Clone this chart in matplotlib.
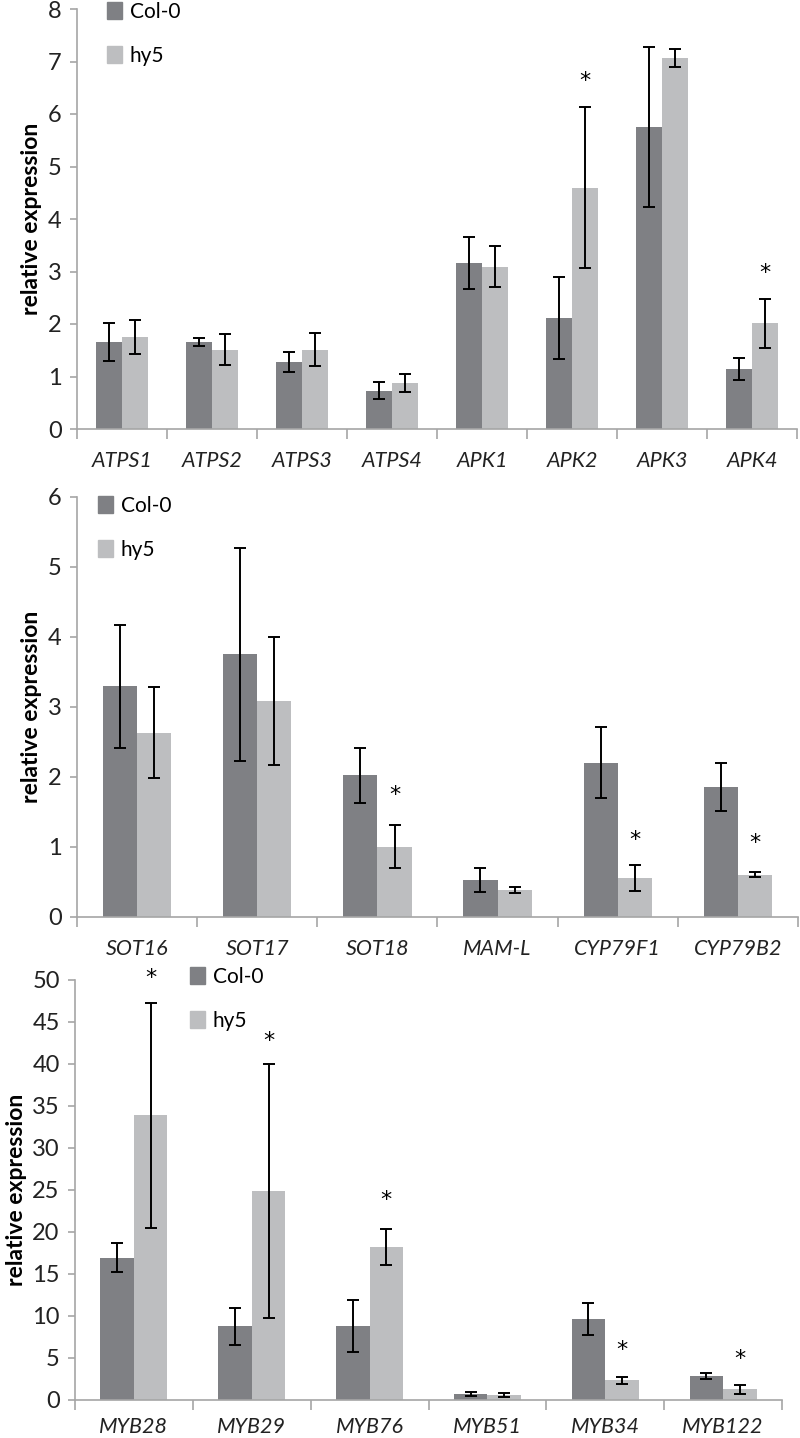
import matplotlib
matplotlib.use("Agg")
import matplotlib.pyplot as plt
import numpy as np
from matplotlib.patches import Patch

plt.rcParams['font.family'] = ['Lato', 'DejaVu Sans']

# ---------------- data ----------------
genes1 = ["ATPS1", "ATPS2", "ATPS3", "ATPS4", "APK1", "APK2", "APK3", "APK4"]
col1 = [1.65, 1.66, 1.27, 0.73, 3.16, 2.11, 5.75, 1.14]
col1_err = [0.36, 0.08, 0.19, 0.16, 0.50, 0.78, 1.53, 0.21]
hy1 = [1.75, 1.51, 1.51, 0.87, 3.09, 4.60, 7.06, 2.01]
hy1_err = [0.33, 0.30, 0.31, 0.17, 0.39, 1.54, 0.17, 0.46]
star1 = [None, None, None, None, None, 6.63, None, 2.97]

genes2 = ["SOT16", "SOT17", "SOT18", "MAM-L", "CYP79F1", "CYP79B2"]
col2 = [3.29, 3.75, 2.02, 0.52, 2.20, 1.85]
col2_err = [0.875, 1.52, 0.39, 0.17, 0.51, 0.34]
hy2 = [2.63, 3.08, 1.00, 0.38, 0.55, 0.60]
hy2_err = [0.65, 0.91, 0.31, 0.04, 0.19, 0.04]
star2 = [None, None, 1.74, None, 1.10, 1.05]

genes3 = ["MYB28", "MYB29", "MYB76", "MYB51", "MYB34", "MYB122"]
col3 = [16.94, 8.77, 8.77, 0.71, 9.64, 2.86]
col3_err = [1.75, 2.2, 3.1, 0.25, 1.9, 0.36]
hy3 = [33.9, 24.9, 18.2, 0.55, 2.34, 1.27]
hy3_err = [13.4, 15.1, 2.1, 0.25, 0.38, 0.54]
star3 = [50.2, 42.7, 23.8, None, 5.95, 4.84]

series_names = ["Col-0", "hy5"]
DARK = "#7f8084"
LIGHT = "#bdbec0"
AXC = "#a6a6a6"

W, H = 800, 1438
fig = plt.figure(figsize=(W / 100, H / 100), dpi=100)


def panel(rect_px, genes, col, col_err, hy, hy_err, stars, ymax, ystep, legpos, xpad):
    l, r, b, t = rect_px
    ax = fig.add_axes([l / W, 1 - b / H, (r - l) / W, (b - t) / H])
    n = len(genes)
    x = np.arange(n)
    w = 0.285
    ek = dict(ecolor="black", elinewidth=1.4, capsize=4.5, capthick=1.4)
    ax.bar(x - w / 2, col, w, color=DARK, yerr=col_err, error_kw=ek, label=series_names[0])
    ax.bar(x + w / 2, hy, w, color=LIGHT, yerr=hy_err, error_kw=ek, label=series_names[1])
    for i, s in enumerate(stars):
        if s is not None:
            ax.text(x[i] + w / 2, s, "*", ha="center", va="center", fontsize=16,
                    family="DejaVu Sans", clip_on=False)
    ax.set_xlim(-0.5, n - 0.5)
    ax.set_ylim(0, ymax)
    ax.set_yticks(np.arange(0, ymax + ystep / 2, ystep))
    ax.set_xticks(x)
    ax.set_xticklabels(genes, fontstyle="italic", fontsize=15.5)
    ax.set_xticks(np.arange(-0.5, n, 1.0), minor=True)
    ax.tick_params(axis="x", which="major", length=0, pad=xpad, colors="#222222")
    ax.tick_params(axis="x", which="minor", length=7, width=1.2, color=AXC, direction="out")
    ax.tick_params(axis="y", length=5, width=1.2, color=AXC, labelsize=17, pad=6,
                   labelcolor="#222222")
    for sp in ["top", "right"]:
        ax.spines[sp].set_visible(False)
    for sp in ["left", "bottom"]:
        ax.spines[sp].set_color(AXC)
        ax.spines[sp].set_linewidth(1.2)
    ax.set_ylabel("relative expression", fontweight="bold", fontsize=16.5, labelpad=4)
    handles = [Patch(color=DARK), Patch(color=LIGHT)]
    ax.legend(handles, series_names, loc="upper left", bbox_to_anchor=legpos,
              bbox_transform=fig.transFigure, frameon=False, fontsize=15,
              handlelength=0.7, handleheight=0.85, handletextpad=0.4,
              labelspacing=1.15, borderpad=0, borderaxespad=0)
    return ax


panel((77, 797, 429, 9), genes1, col1, col1_err, hy1, hy1_err, star1, 8, 1,
      (107 / W, 1 - 2 / H), 16)
panel((77, 798, 916.7, 496.7), genes2, col2, col2_err, hy2, hy2_err, star2, 6, 1,
      (98 / W, 1 - 496 / H), 16)
panel((75, 782, 1400, 980), genes3, col3, col3_err, hy3, hy3_err, star3, 50, 5,
      (190 / W, 1 - 967 / H), 12)

fig.savefig("out.png", dpi=100)
